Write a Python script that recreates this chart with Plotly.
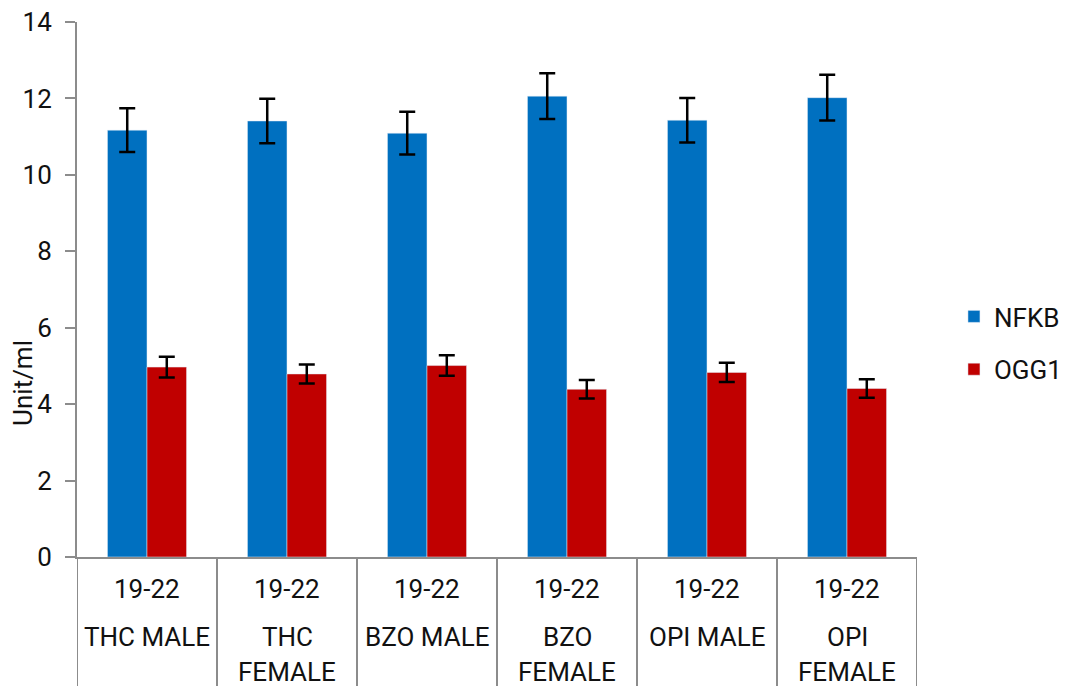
import plotly.graph_objects as go

categories = ["19-22\nTHC MALE", "19-22\nTHC\nFEMALE", "19-22\nBZO MALE",
              "19-22\nBZO\nFEMALE", "19-22\nOPI MALE", "19-22\nOPI\nFEMALE"]
nfkb = [11.17, 11.41, 11.09, 12.06, 11.43, 12.02]
nfkb_err = [0.57, 0.58, 0.56, 0.60, 0.58, 0.60]
ogg1 = [4.97, 4.79, 5.01, 4.39, 4.83, 4.41]
ogg1_err = [0.27, 0.25, 0.27, 0.24, 0.25, 0.24]
y_ticks = [0, 2, 4, 6, 8, 10, 12, 14]

FONT = "Roboto"
FS = 26
TXT = "#111111"
AX = "#8c8c8c"
xs = list(range(len(categories)))

# page is offset by the body margin (8px); compensate in margins
L, T, R, B = 69, 14, 148, 137
W, H = 1071, 686
plot_w = W - L - R
plot_h = H - T - B
base = T + plot_h  # plot bottom in figure px

fig = go.Figure()
fig.add_trace(go.Bar(x=xs, y=nfkb, name="NFKB", marker_color="#0070C0",
                     legendgroup="a",
                     error_y=dict(type="data", array=nfkb_err, color="black",
                                  thickness=2.5, width=8)))
fig.add_trace(go.Bar(x=xs, y=ogg1, name="OGG1", marker_color="#C00000",
                     legendgroup="b",
                     error_y=dict(type="data", array=ogg1_err, color="black",
                                  thickness=2.5, width=8)))

shapes = []
for i in range(len(categories) + 1):
    shapes.append(dict(type="line", xref="x", yref="paper", x0=i - 0.5, x1=i - 0.5,
                       y0=0, y1=-0.3, line=dict(color=AX, width=2)))

annotations = []
line_off = [32, 80, 115]
for i, cat in enumerate(categories):
    parts = cat.split("\n")
    for j, p in enumerate(parts):
        annotations.append(dict(x=i, xref="x", yref="paper", y=-line_off[j] / plot_h,
                                text=p, showarrow=False, yanchor="middle",
                                font=dict(family=FONT, size=FS, color=TXT)))
annotations.append(dict(text="Unit/ml", xref="paper", yref="paper",
                        x=(14 - L) / plot_w, y=(base - 375) / plot_h, textangle=-90,
                        showarrow=False, xanchor="center", yanchor="middle",
                        font=dict(family=FONT, size=FS, color=TXT)))

fig.update_layout(
    width=W, height=H,
    margin=dict(l=L, r=R, t=T, b=B),
    paper_bgcolor="white", plot_bgcolor="white",
    barmode="group", bargap=0.435, bargroupgap=0,
    font=dict(family=FONT, size=FS, color=TXT),
    shapes=shapes, annotations=annotations,
    legend=dict(x=1.044, y=0.4, xanchor="left", yanchor="middle",
                tracegroupgap=16, font=dict(family=FONT, size=FS, color=TXT)),
    showlegend=True,
)
fig.update_xaxes(range=[-0.5, len(categories) - 0.5], showticklabels=False,
                 showline=True, linecolor=AX, linewidth=2, ticks="",
                 showgrid=False, zeroline=False, automargin=False)
fig.update_yaxes(range=[0, 14], tickvals=y_ticks, showline=True, linecolor=AX,
                 linewidth=2, ticks="outside", ticklen=10, tickcolor=AX, tickwidth=2,
                 showgrid=False, zeroline=False, ticklabeloverflow="allow",
                 automargin=False, ticklabelstandoff=8,
                 tickfont=dict(family=FONT, size=FS, color=TXT))

fig.write_html("out.html")
